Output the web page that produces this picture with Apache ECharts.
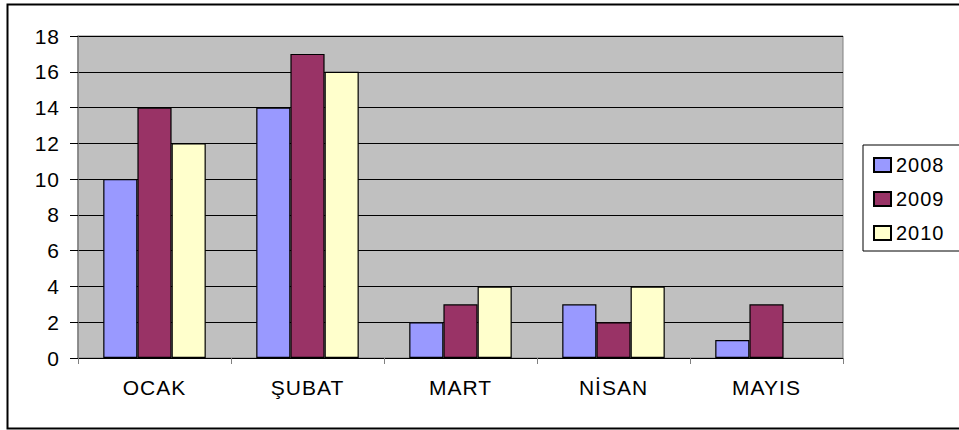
<!DOCTYPE html>
<html><head><meta charset="utf-8">
<script src="https://cdn.jsdelivr.net/npm/echarts@6/dist/echarts.min.js"></script>
<style>html,body{margin:0;padding:0;background:#fff}#c{width:959px;height:430px}
#c svg text{letter-spacing:1px}</style>
</head><body><div id="c"></div>
<script>
const categories = ['OCAK', 'ŞUBAT', 'MART', 'NİSAN', 'MAYIS'];
const s2008 = [10, 14, 2, 3, 1];
const s2009 = [14, 17, 3, 2, 3];
const s2010 = [12, 16, 4, 4, null];
const seriesNames = ['2008', '2009', '2010'];
const colors = ['#9999FF', '#993366', '#FFFFCC'];
const yTicks = {min: 0, max: 18, interval: 2};

const chart = echarts.init(document.getElementById('c'), null, {renderer: 'svg'});
const font = '"Liberation Sans", Arial, sans-serif';
const mk = (name, data, i) => ({
  name, type: 'bar', data, barGap: '0%', barCategoryGap: '33%',
  itemStyle: {color: colors[i], borderColor: '#000', borderWidth: 1.2},
  emphasis: {disabled: true}
});
chart.setOption({
  animation: false,
  backgroundColor: '#fff',
  textStyle: {fontFamily: font},
  graphic: [{type: 'rect', left: 5, top: 2, shape: {width: 1000, height: 424},
    style: {fill: 'none', stroke: '#000', lineWidth: 2}, z: 100}],
  grid: {left: 78, top: 36, width: 765, height: 322, show: true,
    backgroundColor: '#C0C0C0', borderColor: '#808080', borderWidth: 1},
  legend: {
    orient: 'vertical', left: 863, top: 145,
    padding: [10, 40, 8, 10], itemGap: 14, itemWidth: 17, itemHeight: 14,
    icon: 'rect', borderColor: '#000', borderWidth: 1,
    textStyle: {fontSize: 20, color: '#000', fontFamily: font},
    data: seriesNames
  },
  xAxis: {
    type: 'category', data: categories,
    axisLine: {lineStyle: {color: '#000', width: 1}},
    axisTick: {show: true, length: 6, lineStyle: {color: '#808080'}},
    axisLabel: {fontSize: 21, color: '#000', margin: 19, fontFamily: font}
  },
  yAxis: {
    type: 'value', min: yTicks.min, max: yTicks.max, interval: yTicks.interval,
    axisLine: {show: true, lineStyle: {color: '#808080', width: 1.5}},
    axisTick: {show: true, length: 8, lineStyle: {color: '#000'}},
    axisLabel: {fontSize: 21, color: '#000', margin: 18, fontFamily: font},
    splitLine: {show: true, lineStyle: {color: '#000', width: 1}}
  },
  series: [mk(seriesNames[0], s2008, 0), mk(seriesNames[1], s2009, 1), mk(seriesNames[2], s2010, 2)]
});
</script></body></html>
